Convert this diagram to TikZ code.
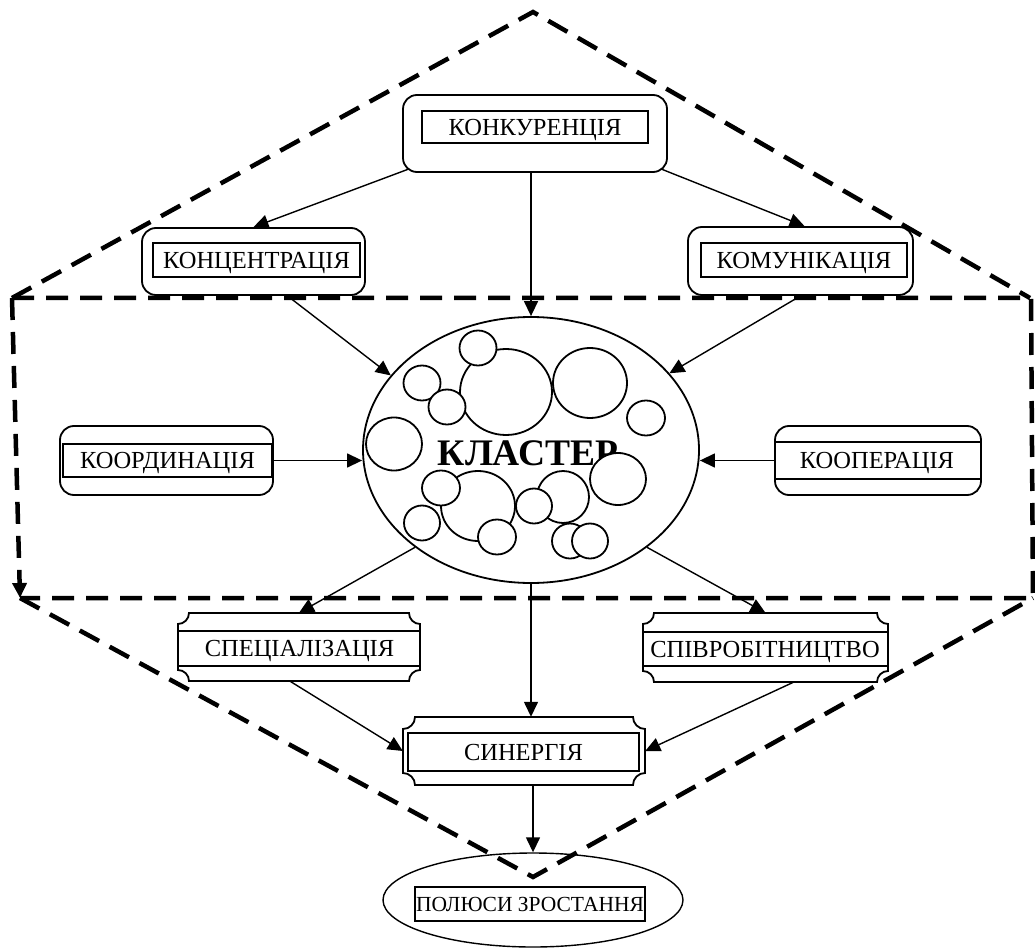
\documentclass[tikz,border=0pt]{standalone}
\usepackage{fontspec}
\setmainfont{Liberation Serif}
\usetikzlibrary{arrows.meta,shapes.geometric,calc}
\newcommand\scrollshape[5]{%
  \draw[boxline,fill=white] ({#1+#5},#2) -- ({#3-#5},#2)
    arc[start angle=180,end angle=90,radius=#5] -- (#3,{#4-#5})
    arc[start angle=270,end angle=180,radius=#5] -- ({#1+#5},#4)
    arc[start angle=0,end angle=-90,radius=#5] -- (#1,{#2+#5})
    arc[start angle=90,end angle=0,radius=#5] -- cycle;}
\begin{document}
\begin{tikzpicture}[x=1pt,y=-1pt,
  boxline/.style={line width=1.8pt},
  rbox/.style={draw,line width=1.8pt,rounded corners=14pt,fill=white,inner sep=0pt},
  ibox/.style={draw,line width=1.6pt,fill=white,inner sep=0pt,text height=16.2pt,text depth=0pt,font=\fontsize{24.5}{28}\selectfont},
  lbl/.style={inner sep=0pt,text height=16.2pt,text depth=0pt,font=\fontsize{24.5}{28}\selectfont},
  plainbox/.style={inner sep=0pt},
  arr/.style={line width=1.4pt,-{Triangle[length=15pt,width=14pt]}},
  dashbound/.style={line width=4.5pt,dash pattern=on 22pt off 12pt},
  bub/.style={draw,line width=1.8pt,fill=white}]
\fill[white] (0,0) rectangle (1035,949);
\useasboundingbox (0,0) rectangle (1035,949);
% dashed boundary (upper part and band)
\draw[dashbound] (12,298) -- (533,12) -- (1030,298);
\draw[dashbound] (12,298) -- (1031,298) -- (1033,598) -- (20,598);
\draw[dashbound,-{Triangle[length=15pt,width=14pt]}] (12,298) -- (20,598);
% poles (unfilled, under the lower dashed lines)
\node[draw,ellipse,line width=1.4pt,minimum width=300pt,minimum height=94pt,inner sep=0pt] (poles) at (533,900) {};
\node[draw,line width=1.4pt,inner sep=0pt,minimum width=230pt,minimum height=34pt,text height=14.3pt,text depth=0pt,font=\fontsize{21.5}{25}\selectfont] (polesT) at (530,904) {ПОЛЮСИ ЗРОСТАННЯ};
\draw[dashbound] (20,598) -- (533,877) -- (1033,598);
% top boxes
\node[rbox,minimum width=264pt,minimum height=77pt] (konk) at (535,133.5) {};
\node[ibox,minimum width=226pt,minimum height=32pt] (konkT) at (535,127) {КОНКУРЕНЦІЯ};
\node[rbox,minimum width=223pt,minimum height=67pt] (konts) at (253.5,261.5) {};
\node[ibox,minimum width=207pt,minimum height=34pt] (kontsT) at (256.5,260) {КОНЦЕНТРАЦІЯ};
\node[rbox,minimum width=225pt,minimum height=68pt] (komun) at (800.5,261) {};
\node[ibox,minimum width=206pt,minimum height=34pt] (komunT) at (804,260) {КОМУНІКАЦІЯ};
\node[rbox,minimum width=213pt,minimum height=69pt] (koord) at (166.5,460.5) {};
\node[ibox,minimum width=209pt,minimum height=33pt] (koordT) at (167.5,460.5) {КООРДИНАЦІЯ};
\node[rbox,minimum width=206pt,minimum height=69pt] (koop) at (878,460.5) {};
\draw[boxline] ($(koop.north west)+(0,17)$) -- ($(koop.north east)+(0,17)$);
\draw[boxline] ($(koop.south west)+(0,-17)$) -- ($(koop.south east)+(0,-17)$);
\node[lbl] (koopT) at (877,460.5) {КООПЕРАЦІЯ};
% cluster
\node[draw,ellipse,line width=1.8pt,minimum width=336pt,minimum height=266pt,inner sep=0pt,fill=white] (klaster) at (531,450) {};
\draw[bub] (506,392) ellipse [x radius=46, y radius=43];
\draw[bub] (478,348) ellipse [x radius=18.5, y radius=17.5];
\draw[bub] (422,383) ellipse [x radius=18.5, y radius=17.5];
\draw[bub] (447,407) ellipse [x radius=18.5, y radius=17.5];
\draw[bub] (590,383) ellipse [x radius=37, y radius=35];
\draw[bub] (646,418) ellipse [x radius=19, y radius=17.5];
\draw[bub] (394,444) ellipse [x radius=28, y radius=26.5];
\node[anchor=base,inner sep=0pt,font=\fontsize{37.5}{40}\selectfont\bfseries] (klasterT) at (528,465) {КЛАСТЕР};
\draw[bub] (618,479) ellipse [x radius=28, y radius=26];
\draw[bub] (478,506) ellipse [x radius=37, y radius=35];
\draw[bub] (441,488) ellipse [x radius=19, y radius=17.5];
\draw[bub] (422,523) ellipse [x radius=18, y radius=17.5];
\draw[bub] (497,537) ellipse [x radius=19, y radius=17.5];
\draw[bub] (563,497) ellipse [x radius=26, y radius=26];
\draw[bub] (534,506) ellipse [x radius=18, y radius=17.5];
\draw[bub] (570,541) ellipse [x radius=18, y radius=17.5];
\draw[bub] (590,541) ellipse [x radius=18, y radius=17.5];
% lower boxes
\node[plainbox,minimum width=242pt,minimum height=68pt] (spec) at (299,647) {};
\scrollshape{178}{613}{420}{681}{11}
\draw[boxline] (178,631) -- (420,631);
\draw[boxline] (178,666) -- (420,666);
\node[lbl] (specT) at (299.5,648.5) {СПЕЦІАЛІЗАЦІЯ};
\node[plainbox,minimum width=245pt,minimum height=69pt] (spivr) at (765.5,647.5) {};
\scrollshape{643}{613}{888}{682}{11}
\draw[boxline] (643,632) -- (888,632);
\draw[boxline] (643,666) -- (888,666);
\node[lbl] (spivrT) at (765,649) {СПІВРОБІТНИЦТВО};
\node[plainbox,minimum width=242pt,minimum height=68pt] (syn) at (524,751) {};
\scrollshape{403}{717}{645}{785}{12}
\node[ibox,minimum width=231pt,minimum height=38pt] (synT) at (523.5,752) {СИНЕРГІЯ};
% connectors
\draw[arr] (klaster.north |- konk.south) -- (klaster.north);
\draw[arr] ($(konk.south west)+(7,-4)$) -- (konts.north);
\draw[arr] ($(konk.south east)+(-7,-4)$) -- ($(komun.north)+(4,0)$);
\draw[arr] ($(konts.south)+(34,0)$) -- (klaster.152);
\draw[arr] (komun.south) -- (klaster.29);
\draw[arr] (koord.east) -- (koord.east -| klaster.west);
\draw[arr] (koop.west) -- (koop.west -| klaster.east);
\draw[arr] (klaster.220) -- (spec.north);
\draw[arr] (klaster.320) -- (spivr.north);
\draw[arr] (klaster.south) -- (klaster.south |- syn.north);
\draw[arr] ($(spec.south)+(-9,0)$) -- (syn.west);
\draw[arr] ($(spivr.south)+(28,0)$) -- (syn.east);
\draw[arr] (poles.north |- syn.south) -- (poles.north);
\end{tikzpicture}
\end{document}
